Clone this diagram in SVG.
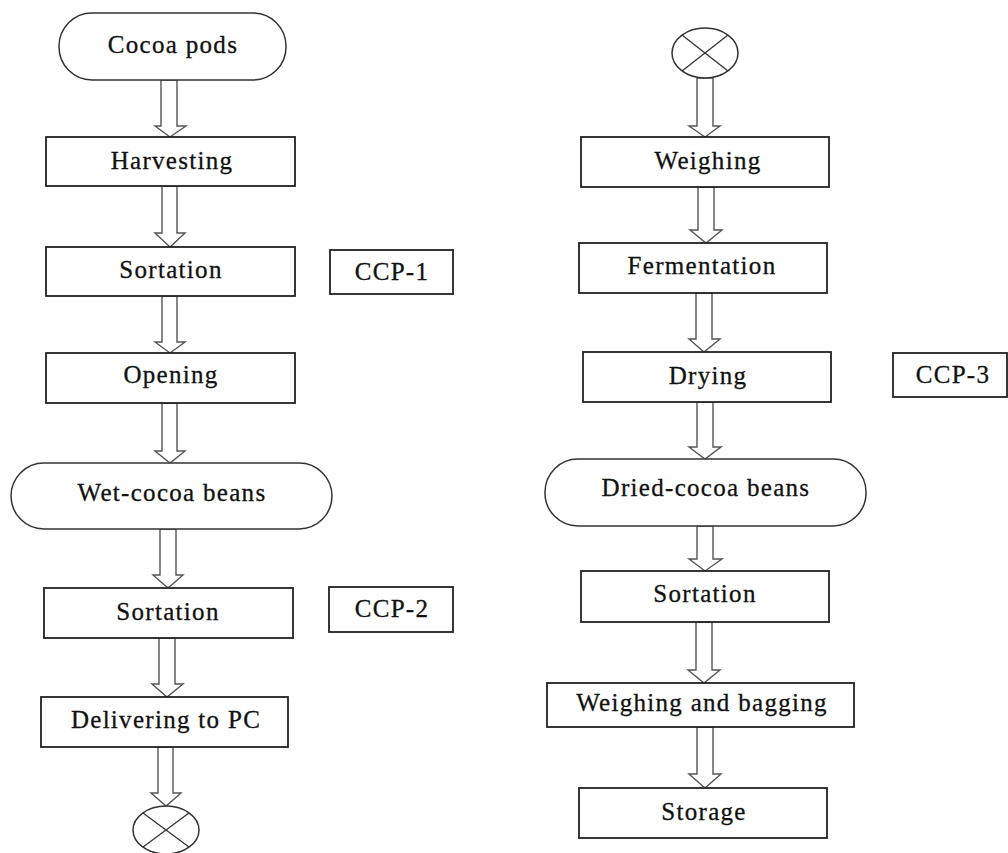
<svg xmlns="http://www.w3.org/2000/svg" width="1008" height="853" viewBox="0 0 1008 853">
<style>
.box{fill:#fff;stroke:#222;stroke-width:1.8}
.term{fill:#fff;stroke:#333;stroke-width:1.5}
.arr{fill:#fff;stroke:#555;stroke-width:1.4;stroke-linejoin:miter}
.con{fill:#fff;stroke:#333;stroke-width:1.5}
.x{stroke:#333;stroke-width:1.3}
text{font-family:"Liberation Serif","Times New Roman",serif;font-size:25px;letter-spacing:1.3px;fill:#111;stroke:#111;stroke-width:0.3;text-anchor:middle}
</style>
<rect width="1008" height="853" fill="#fff"/>
<g id="connectors">
<polygon class="arr" points="161,80 177,80 177,126 186,126 170,137 155,126 161,126"/>
<polygon class="arr" points="162,186 177,186 177,233 185,233 170,247 155,233 162,233"/>
<polygon class="arr" points="162,296 177,296 177,342 185,342 170,353 155,342 162,342"/>
<polygon class="arr" points="162,403 177,403 177,451 185,451 170,463 155,451 162,451"/>
<polygon class="arr" points="160,529 176,529 176,575 183,575 168,588 153,575 160,575"/>
<polygon class="arr" points="159,638 175,638 175,684 183,684 167,697 152,684 159,684"/>
<polygon class="arr" points="158,747 173,747 173,793 181,793 166,806 151,793 158,793"/>
<polygon class="arr" points="697,78 713,78 713,126 720,126 705,137 689,126 697,126"/>
<polygon class="arr" points="698,187 714,187 714,230 722,230 706,243 690,230 698,230"/>
<polygon class="arr" points="696,293 712,293 712,339 720,339 704,352 689,339 696,339"/>
<polygon class="arr" points="697,402 713,402 713,447 721,447 705,459 689,447 697,447"/>
<polygon class="arr" points="697,526 713,526 713,559 722,559 705,571 689,559 697,559"/>
<polygon class="arr" points="696,622 712,622 712,670 720,670 704,683 688,670 696,670"/>
<polygon class="arr" points="697,727 713,727 713,774 721,774 705,788 689,774 697,774"/>
</g>
<g id="n-cocoa-pods"><rect class="term" x="59" y="13" width="227" height="67" rx="33" ry="33"/><text x="173" y="53">Cocoa pods</text></g>
<g id="n-harvesting"><rect class="box" x="46" y="137" width="249" height="49"/><text x="172" y="169">Harvesting</text></g>
<g id="n-sortation1"><rect class="box" x="46" y="247" width="249" height="49"/><text x="171" y="278">Sortation</text></g>
<g id="n-ccp1"><rect class="box" x="330" y="250" width="123" height="44"/><text x="392" y="280">CCP-1</text></g>
<g id="n-opening"><rect class="box" x="46" y="353" width="249" height="50"/><text x="171" y="383">Opening</text></g>
<g id="n-wet-beans"><rect class="term" x="11" y="463" width="321" height="66" rx="33" ry="33"/><text x="172" y="501">Wet-cocoa beans</text></g>
<g id="n-sortation2"><rect class="box" x="44" y="588" width="249" height="50"/><text x="168" y="620">Sortation</text></g>
<g id="n-ccp2"><rect class="box" x="329" y="587" width="124" height="45"/><text x="392" y="617">CCP-2</text></g>
<g id="n-delivering"><rect class="box" x="41" y="697" width="247" height="50"/><text x="166" y="728">Delivering to PC</text></g>
<g id="n-connector-out"><ellipse class="con" cx="166" cy="830" rx="33" ry="24"/><line class="x" x1="143" y1="813" x2="189" y2="847"/><line class="x" x1="189" y1="813" x2="143" y2="847"/></g>
<g id="n-connector-in"><ellipse class="con" cx="705" cy="53" rx="33" ry="25"/><line class="x" x1="682" y1="35" x2="728" y2="71"/><line class="x" x1="728" y1="35" x2="682" y2="71"/></g>
<g id="n-weighing"><rect class="box" x="581" y="137" width="248" height="50"/><text x="708" y="169">Weighing</text></g>
<g id="n-fermentation"><rect class="box" x="579" y="243" width="248" height="50"/><text x="702" y="274">Fermentation</text></g>
<g id="n-drying"><rect class="box" x="583" y="352" width="248" height="50"/><text x="708" y="384">Drying</text></g>
<g id="n-ccp3"><rect class="box" x="893" y="353" width="114" height="44"/><text x="953" y="383">CCP-3</text></g>
<g id="n-dried-beans"><rect class="term" x="545" y="459" width="321" height="67" rx="33" ry="33"/><text x="706" y="496">Dried-cocoa beans</text></g>
<g id="n-sortation3"><rect class="box" x="581" y="571" width="248" height="51"/><text x="705" y="602">Sortation</text></g>
<g id="n-weigh-bag"><rect class="box" x="547" y="683" width="307" height="44"/><text x="702" y="711">Weighing and bagging</text></g>
<g id="n-storage"><rect class="box" x="579" y="788" width="248" height="50"/><text x="704" y="820">Storage</text></g>
</svg>
